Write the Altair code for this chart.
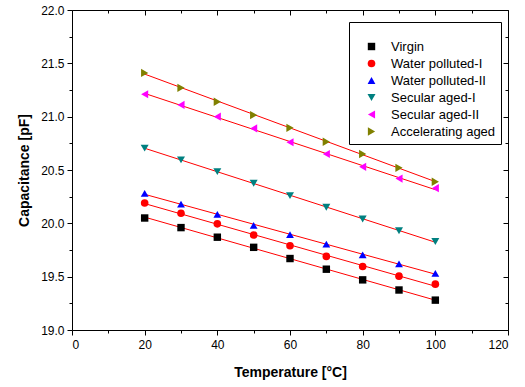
import altair as alt
import pandas as pd

temps = [20, 30, 40, 50, 60, 70, 80, 90, 100]
series_names = ["Virgin", "Water polluted-I", "Water polluted-II",
                "Secular aged-I", "Secular aged-II", "Accelerating aged"]
virgin = [20.05, 19.96, 19.87, 19.775, 19.67, 19.57, 19.47, 19.375, 19.28]
water_polluted_1 = [20.19, 20.095, 19.995, 19.89, 19.79, 19.69, 19.595, 19.505, 19.43]
water_polluted_2 = [20.28, 20.18, 20.085, 19.98, 19.895, 19.805, 19.705, 19.62, 19.53]
secular_aged_1 = [20.705, 20.595, 20.485, 20.375, 20.26, 20.15, 20.04, 19.93, 19.83]
secular_aged_2 = [21.21, 21.11, 21.0, 20.89, 20.76, 20.65, 20.53, 20.42, 20.33]
accelerating_aged = [21.41, 21.27, 21.14, 21.015, 20.895, 20.765, 20.65, 20.52, 20.39]
colors = ["#000000", "#FF0000", "#0000FF", "#008080", "#FF00FF", "#808000"]
shapes = ["square", "circle", "triangle-up", "triangle-down", "triangle-left", "triangle-right"]
sizes = [55, 70, 95, 95, 95, 95]
x_major = [0, 20, 40, 60, 80, 100, 120]
x_minor = [10, 30, 50, 70, 90, 110]
y_major = [19.0, 19.5, 20.0, 20.5, 21.0, 21.5, 22.0]
y_minor = [19.25, 19.75, 20.25, 20.75, 21.25, 21.75]

rows = []
for name, vals in zip(series_names, [virgin, water_polluted_1, water_polluted_2,
                                     secular_aged_1, secular_aged_2, accelerating_aged]):
    for t, v in zip(temps, vals):
        rows.append({"T": t, "C": v, "Series": name})
df = pd.DataFrame(rows)

xscale = alt.Scale(domain=[0, 120], nice=False, zero=False)
yscale = alt.Scale(domain=[19, 22], nice=False, zero=False)
FONT = "Arial, Liberation Sans"

base = alt.Chart(df)

lines = base.transform_regression(
    "T", "C", groupby=["Series"], extent=[20, 100]
).mark_line(color="#FF0000", strokeWidth=1).encode(
    x=alt.X("T:Q", scale=xscale, axis=alt.Axis(
        orient="bottom", values=x_major, format="d", tickSize=5, labelPadding=4,
        title="Temperature [°C]", titlePadding=15, grid=False, domain=False)),
    y=alt.Y("C:Q", scale=yscale, axis=alt.Axis(
        orient="left", values=y_major, format=".1f", tickSize=5, labelPadding=3,
        title="Capacitance [pF]", titlePadding=9, grid=False, domain=False)),
    detail="Series:N",
)

leg = alt.Legend(title=" ", orient="none", legendX=277, legendY=12)

points = base.mark_point(filled=True, opacity=1).encode(
    x=alt.X("T:Q", scale=xscale, axis=alt.Axis(
        orient="top", values=x_major, labels=False, tickSize=5, offset=-5,
        title=None, grid=False, domain=False)),
    y=alt.Y("C:Q", scale=yscale, axis=alt.Axis(
        orient="right", values=y_major, labels=False, tickSize=5, offset=-5,
        title=None, grid=False, domain=False)),
    color=alt.Color("Series:N", scale=alt.Scale(domain=series_names, range=colors), legend=leg),
    shape=alt.Shape("Series:N", scale=alt.Scale(domain=series_names, range=shapes), legend=leg),
    size=alt.Size("Series:N", scale=alt.Scale(domain=series_names, range=sizes), legend=None),
)

minor_bl = base.mark_point(opacity=0).encode(
    x=alt.X("T:Q", scale=xscale, axis=alt.Axis(
        orient="bottom", values=x_minor, labels=False, tickSize=3,
        title=None, grid=False, domain=False)),
    y=alt.Y("C:Q", scale=yscale, axis=alt.Axis(
        orient="left", values=y_minor, labels=False, tickSize=3,
        title=None, grid=False, domain=False)),
)

minor_tr = base.mark_point(opacity=0).encode(
    x=alt.X("T:Q", scale=xscale, axis=alt.Axis(
        orient="top", values=x_minor, labels=False, tickSize=3, offset=-3,
        title=None, grid=False, domain=False)),
    y=alt.Y("C:Q", scale=yscale, axis=alt.Axis(
        orient="right", values=y_minor, labels=False, tickSize=3, offset=-3,
        title=None, grid=False, domain=False)),
)

chart = alt.layer(lines, points, minor_bl, minor_tr).properties(
    width=436, height=320,
    autosize=alt.AutoSizeParams(type="none"),
    padding={"left": 72, "top": 10, "right": 17, "bottom": 57},
    background="white",
).configure_view(
    stroke="#000000", strokeWidth=1
).configure_axis(
    labelFont=FONT, labelFontSize=12, labelColor="#000000",
    titleFont=FONT, titleFontSize=14, titleFontWeight="bold", titleColor="#000000",
    tickColor="#000000", tickWidth=1,
).configure_legend(
    strokeColor="#000000", fillColor="white", padding=5,
    symbolOffset=11, labelOffset=13, titleFontSize=8, titlePadding=5,
    labelFont=FONT, labelFontSize=13, labelColor="#000000",
    rowPadding=3, symbolSize=60, symbolStrokeWidth=0,
)

chart.save("out.html", embed_options={"renderer": "svg", "actions": False})
